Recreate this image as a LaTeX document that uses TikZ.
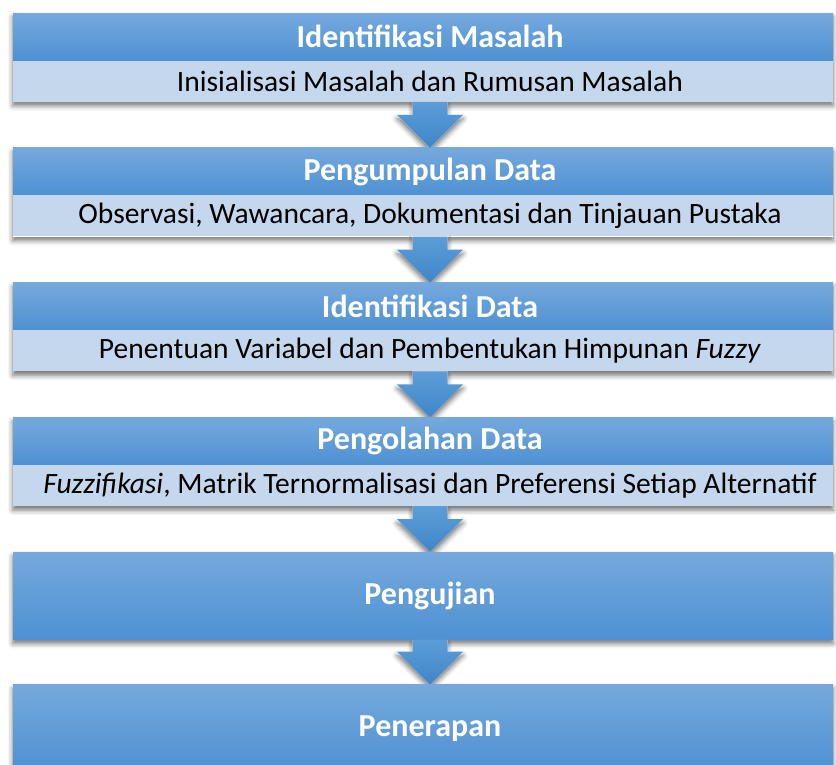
\documentclass[tikz,border=0pt]{standalone}
\usepackage{fontspec}
\setmainfont{Carlito}
\usetikzlibrary{positioning,calc,shadows.blur,backgrounds}

\definecolor{headtop}{HTML}{75A9DD}
\definecolor{headbot}{HTML}{4E91D2}
\definecolor{subfill}{HTML}{C5D7EC}
\definecolor{arrowtop}{HTML}{5C9DD7}
\definecolor{arrowbot}{HTML}{3F86C8}

\tikzset{
  stagebox/.style={minimum width=820pt, inner sep=0pt, anchor=north,
    execute at begin node={\hspace*{14pt}}},
  head/.style={stagebox, minimum height=47pt, top color=headtop, bottom color=headbot,
    text=white, font=\fontsize{32}{36}\selectfont\bfseries},
  sub/.style={stagebox, minimum height=41pt, fill=subfill, text=black,
    font=\fontsize{29.5}{34}\selectfont},
  stageshadow/.style={blur shadow={shadow xshift=0pt, shadow yshift=-4pt,
    shadow blur radius=5pt, shadow opacity=55}},
}

% arrow from the bottom of #2 to the top of #3
\newcommand\stagearrow[3][]{%
  \path[#1] ($(#2.south)+(-10.5,0)$) -- ($(#2.south)+(24.5,0)$) --
    ($(#3.north)+(24.5,33)$) -- ($(#3.north)+(40,33)$) --
    ($(#3.north)+(7,0)$) --
    ($(#3.north)+(-26,33)$) -- ($(#3.north)+(-10.5,33)$) -- cycle;}

\begin{document}
\begin{tikzpicture}[x=1pt,y=1pt]
  \useasboundingbox (0,0) rectangle (836,-765);

  % stages
  \node[head] (h1) at (423,-13) {Identifikasi Masalah};
  \node[sub, below=0pt of h1] (s1) {Inisialisasi Masalah dan Rumusan Masalah};
  \node[head, below=46pt of s1] (h2) {Pengumpulan Data};
  \node[sub, below=0pt of h2] (s2) {Observasi, Wawancara, Dokumentasi dan Tinjauan Pustaka};
  \node[head, below=46pt of s2] (h3) {Identifikasi Data};
  \node[sub, below=0pt of h3] (s3) {Penentuan Variabel dan Pembentukan Himpunan \textit{Fuzzy}};
  \node[head, below=46pt of s3] (h4) {Pengolahan Data};
  \node[sub, below=0pt of h4] (s4) {\textit{Fuzzifikasi}, Matrik Ternormalisasi dan Preferensi Setiap Alternatif};
  \node[head, minimum height=87pt, below=46pt of s4] (h5) {Pengujian};
  \node[head, minimum height=87pt, below=45pt of h5] (h6) {Penerapan};

  % shadows
  \begin{scope}[on background layer]
    \foreach \t/\b in {h1/s1, h2/s2, h3/s3, h4/s4, h5/h5, h6/h6}
      \path[stageshadow, fill=white] (\t.north west) rectangle (\b.south east);
    \foreach \a/\b in {s1/h2, s2/h3, s3/h4, s4/h5, h5/h6} {
      \stagearrow[stageshadow, fill=white]{\a}{\b}
    }
  \end{scope}

  % arrows between stages
  \foreach \a/\b in {s1/h2, s2/h3, s3/h4, s4/h5, h5/h6} {
    \stagearrow[top color=arrowtop, bottom color=arrowbot]{\a}{\b}
  }
\end{tikzpicture}
\end{document}
